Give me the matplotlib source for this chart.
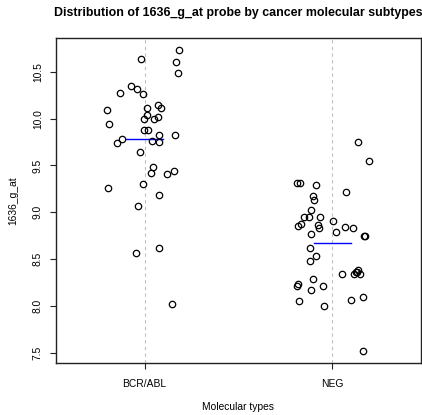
import numpy as np
import matplotlib
matplotlib.use("Agg")
import matplotlib.pyplot as plt

# ---- данные ----
groups = ["BCR/ABL", "NEG"]

bcr_values = [10.737, 10.641, 10.610, 10.486, 10.351, 10.316, 10.269, 10.273,
              10.093, 10.146, 10.114, 10.117, 10.039, 10.021, 9.997, 9.993,
              9.944, 9.876, 9.876, 9.830, 9.830, 9.787, 9.741, 9.763,
              9.748, 9.646, 9.489, 9.422, 9.444, 9.404, 9.298, 9.263,
              9.188, 9.071, 8.617, 8.567, 8.018]
bcr_jitter = [0.185, -0.021, 0.170, 0.176, -0.072, -0.039, -0.007, -0.131,
              -0.198, 0.071, 0.090, 0.013, 0.011, 0.071, 0.053, -0.003,
              -0.189, -0.002, 0.021, 0.078, 0.160, -0.120, -0.144, 0.039,
              0.078, -0.024, 0.045, 0.034, 0.156, 0.122, -0.007, -0.195,
              0.077, -0.035, 0.078, -0.044, 0.146]

neg_values = [9.748, 9.553, 9.312, 9.312, 9.290, 9.216, 9.178, 9.135,
              9.021, 8.950, 8.954, 8.947, 8.912, 8.854, 8.872, 8.859,
              8.833, 8.840, 8.837, 8.769, 8.787, 8.745, 8.745, 8.620,
              8.532, 8.476, 8.344, 8.340, 8.383, 8.365, 8.359, 8.337,
              8.290, 8.231, 8.216, 8.213, 8.173, 8.093, 8.067, 8.050,
              8.000, 7.518]
neg_jitter = [0.135, 0.195, -0.188, -0.172, -0.089, 0.071, -0.103, -0.097,
              -0.115, -0.153, -0.124, -0.064, 0.005, -0.186, -0.169, -0.076,
              -0.071, 0.065, 0.110, -0.113, 0.020, 0.174, 0.170, -0.119,
              -0.087, -0.119, 0.052, 0.115, 0.135, 0.131, 0.124, 0.145,
              -0.101, -0.186, -0.191, -0.052, -0.112, 0.165, 0.099, -0.177,
              -0.043, 0.163]

y_ticks = [7.5, 8.0, 8.5, 9.0, 9.5, 10.0, 10.5]

# ---- рисунок ----
plt.rcParams['font.family'] = ['Liberation Sans', 'DejaVu Sans']

W, H = 422, 415
fig = plt.figure(figsize=(W / 100, H / 100), dpi=100)
left, right, top, bottom = 56, 421, 37.7, 363
ax = fig.add_axes([left / W, 1 - bottom / H, (right - left) / W, (bottom - top) / H])

all_vals = bcr_values + neg_values
lo, hi = min(all_vals), max(all_vals)
pad = (hi - lo) * 0.04
ax.set_ylim(lo - pad, hi + pad)
ax.set_xlim(0.529, 2.471)

for i in range(len(groups)):
    ax.axvline(i + 1, color="#bfbfbf", lw=0.8, ls=(0, (3, 3)), zorder=0)

series = [(bcr_values, bcr_jitter), (neg_values, neg_jitter)]
for i, (vals, jit) in enumerate(series):
    xs = np.array(jit) + i + 1
    ax.plot(xs, vals, ls="none", marker="o", ms=4.6, mfc="none",
            mec="black", mew=0.9, zorder=3)
    m = np.mean(vals)
    ax.plot([i + 1 - 0.1, i + 1 + 0.1], [m, m], color="blue", lw=1.0, zorder=2)

ax.set_xticks([1, 2])
ax.set_xticklabels(groups)
ax.set_yticks(y_ticks)
ax.set_yticklabels(["%.1f" % t for t in y_ticks])
ax.tick_params(axis="both", direction="out", length=4.5, width=0.8,
               labelsize=7.4, color="#222222")
ax.tick_params(axis="x", pad=7)
ax.tick_params(axis="y", pad=5, labelrotation=90)
for lab in ax.get_yticklabels():
    lab.set_va("center")

for s in ax.spines.values():
    s.set_linewidth(1.0)
    s.set_color("#222222")

cx = (left + right) / 2 / W
fig.text(cx, 1 - 13 / H, "Distribution of 1636_g_at probe by cancer molecular subtypes",
         ha="center", va="center", fontsize=8.9, fontweight="bold")
fig.text(cx, 1 - 407 / H, "Molecular types", ha="center", va="center", fontsize=7.4)
fig.text(13 / W, 1 - ((top + bottom) / 2) / H, "1636_g_at", ha="center", va="center",
         rotation=90, fontsize=7.4)

fig.savefig("out.png", dpi=100)
